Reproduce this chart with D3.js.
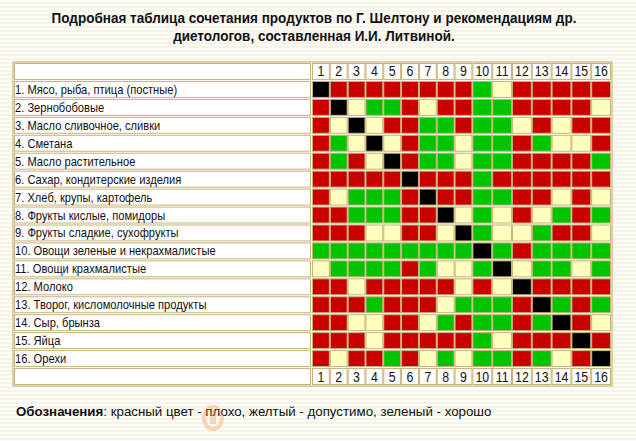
<!DOCTYPE html>
<html><head><meta charset="utf-8">
<script src="https://cdn.jsdelivr.net/npm/d3@7"></script>
<style>
html,body{margin:0;padding:0;background:#fbfaf3;}
svg{display:block;}
text{font-family:"Liberation Sans",Arial,sans-serif;}
</style></head>
<body>
<script>
const titleLines = [
  "Подробная таблица сочетания продуктов по Г. Шелтону и рекомендациям др.",
  "диетологов, составленная И.И. Литвиной."
];
const products = [
  "1. Мясо, рыба, птица (постные)",
  "2. Зернобобовые",
  "3. Масло сливочное, сливки",
  "4. Сметана",
  "5. Масло растительное",
  "6. Сахар, кондитерские изделия",
  "7. Хлеб, крупы, картофель",
  "8. Фрукты кислые, помидоры",
  "9. Фрукты сладкие, сухофрукты",
  "10. Овощи зеленые и некрахмалистые",
  "11. Овощи крахмалистые",
  "12. Молоко",
  "13. Творог, кисломолочные продукты",
  "14. Сыр, брынза",
  "15. Яйца",
  "16. Орехи"
];
const colLabels = ["1","2","3","4","5","6","7","8","9","10","11","12","13","14","15","16"];
// R = плохо, Y = допустимо, G = хорошо, B = same product (diagonal)
const combos = [
  "BRRRRRRRRGYRRRRR",
  "RBYGGRYRRGGRRRRY",
  "RYBYRRGGRGGYRYRR",
  "RGYBYRGGYGGRGYYR",
  "RGRYBRGGYGGRRRRG",
  "RRRRRBRRRGRRRRRR",
  "RYGGGRBRRGGRRYRY",
  "RRGGGRRBYGYRYGRG",
  "RRRYYRRYBGYYGRRY",
  "GGGGGGGGGBGRGGGG",
  "YGGGGRGYYGBYGGYG",
  "RRYRRRRRYRYBRRRR",
  "RRRGRRRYGGGRBGRG",
  "RRYYRRYGRGGRGBRY",
  "RRRYRRRRRGYRRRBR",
  "RYRRGRYGYGGRGYRB"
];
const legendBold = "Обозначения";
const legendRest = ": красный цвет - плохо, желтый - допустимо, зеленый - хорошо";

const W = 636, H = 441;
const svg = d3.select("body").append("svg").attr("width", W).attr("height", H);

// condense text horizontally (the source uses a narrow face)
function condense(sel, k) {
  sel.each(function() {
    const len = this.getComputedTextLength();
    d3.select(this).attr("textLength", len * k).attr("lengthAdjust", "spacingAndGlyphs");
  });
}

// striped page background
const defs = svg.append("defs");
const pat = defs.append("pattern").attr("id","stripes").attr("width",4).attr("height",4)
  .attr("patternUnits","userSpaceOnUse");
pat.append("rect").attr("width",4).attr("height",4).attr("fill","#fcfbf5");
pat.append("rect").attr("y",2).attr("width",4).attr("height",2).attr("fill","#f6f4e9");
svg.append("rect").attr("width",W).attr("height",H).attr("fill","url(#stripes)");

// title
svg.append("g").selectAll("text").data(titleLines).join("text")
  .attr("x", 314).attr("y", (d,i)=> 23 + i*18)
  .attr("text-anchor","middle").attr("font-size",14).attr("font-weight","bold")
  .attr("fill","#111").text(d=>d)
  .call(condense, 0.965);

// layout scales
const tableLeft = 13, gridLeft = 312, gridRight = 611, tableTop = 62, tableBottom = 385;
const rowKeys = ["head"].concat(products.map((d,i)=>i)).concat(["foot"]);
const y = d3.scaleBand().domain(rowKeys).range([tableTop, tableBottom]).paddingInner(0);
const units = colLabels.map(l => l.length === 1 ? 18 : 20);
const cum = d3.cumsum([0].concat(units));
const xu = d3.scaleLinear().domain([0, cum[cum.length-1]]).range([gridLeft, gridRight]);
const colX = i => xu(cum[i]);
const colW = i => xu(cum[i+1]) - xu(cum[i]);
const color = d3.scaleOrdinal().domain(["R","Y","G","B"])
  .range(["#c80000","#ffffc0","#00c400","#000000"]);
const border = "#c8b27a";

// table outer frame
svg.append("rect").attr("x",tableLeft).attr("y",tableTop).attr("width",gridRight+1-tableLeft)
  .attr("height",tableBottom+1-tableTop).attr("fill","#fffef6").attr("stroke",border).attr("stroke-width",1.2);

// label cells
svg.append("g").selectAll("rect").data(rowKeys).join("rect")
  .attr("x", tableLeft+1.5).attr("y", d=>y(d)+1.5)
  .attr("width", gridLeft - tableLeft - 3).attr("height", y.bandwidth()-2)
  .attr("fill","#ffffff").attr("stroke",border).attr("stroke-width",1);

svg.append("g").selectAll("text").data(products).join("text")
  .attr("x", tableLeft+2).attr("y",(d,i)=> y(i)+y.bandwidth()/2+5)
  .attr("font-size",13.5).attr("fill","#111").text(d=>d)
  .call(condense, 0.825);

// header & footer numbers
["head","foot"].forEach(k=>{
  const g = svg.append("g");
  g.selectAll("rect").data(colLabels).join("rect")
    .attr("x",(d,i)=>colX(i)+0.5).attr("y", y(k)+1.5)
    .attr("width",(d,i)=>colW(i)-1).attr("height", y.bandwidth()-2)
    .attr("fill","#ffffff").attr("stroke",border).attr("stroke-width",1);
  g.selectAll("text").data(colLabels).join("text")
    .attr("x",(d,i)=>colX(i)+colW(i)/2).attr("y", y(k)+y.bandwidth()/2+5.5)
    .attr("text-anchor","middle").attr("font-size",14).attr("fill","#111").text(d=>d)
    .call(condense, 0.88);
});

// grid cells
const cells = [];
combos.forEach((row,r)=>row.split("").forEach((c,ci)=>cells.push({r,ci,c})));
svg.append("g").selectAll("rect").data(cells).join("rect")
  .attr("x", d=>colX(d.ci)+0.5).attr("y", d=>y(d.r)+1.5)
  .attr("width", d=>colW(d.ci)-1).attr("height", y.bandwidth()-2)
  .attr("fill", d=>color(d.c)).attr("stroke",border).attr("stroke-width",1);

// legend
const lg = svg.append("text").attr("x",16).attr("y",416).attr("font-size",13.3).attr("fill","#111");
lg.append("tspan").attr("font-weight","bold").text(legendBold);
lg.append("tspan").text(legendRest);

// faint watermark
const wm = svg.append("g").attr("transform","translate(213,418)").attr("opacity",0.3);
wm.append("ellipse").attr("rx",9).attr("ry",11).attr("fill","none").attr("stroke","#f08a30").attr("stroke-width",4);
wm.append("rect").attr("x",-3).attr("y",-8).attr("width",6).attr("height",14).attr("fill","#f08a30");
</script>
</body></html>
